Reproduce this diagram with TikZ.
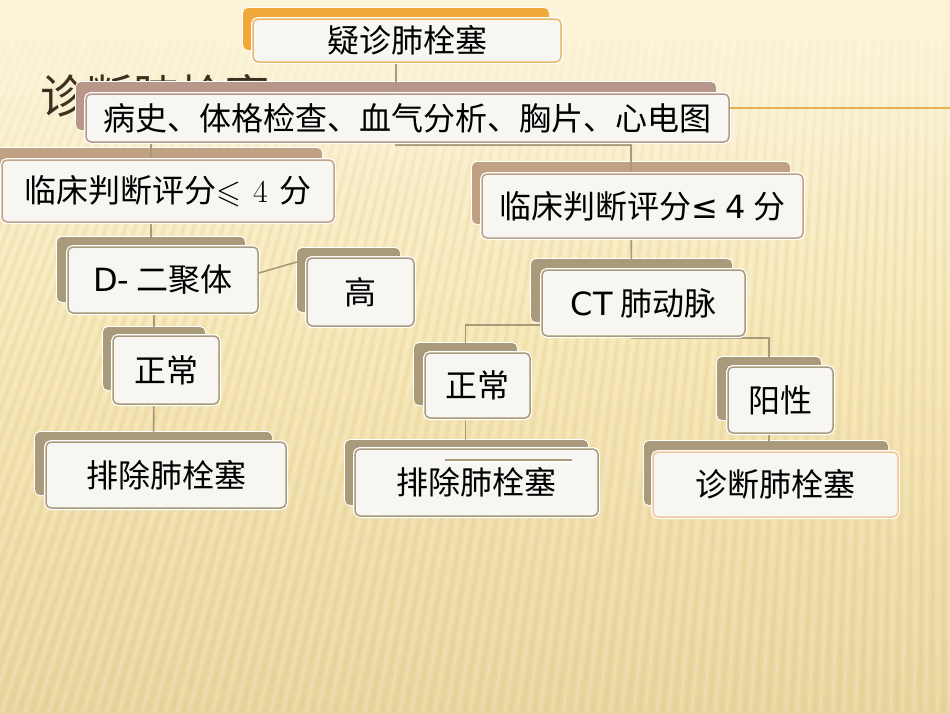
\documentclass[tikz,border=0pt]{standalone}
\usepackage{fontspec}
\usepackage{amssymb}
\newfontfamily\cjk{Noto Sans CJK SC}
\newfontfamily\lat{DejaVu Sans}
\usetikzlibrary{fadings}
\definecolor{bgtop}{HTML}{FCF4D8}
\definecolor{bgmid}{HTML}{F6E6B4}
\definecolor{bgbot}{HTML}{E9D59E}
\definecolor{stripec}{HTML}{C8AA60}
\definecolor{orangeb}{HTML}{F0A838}
\definecolor{orangeline}{HTML}{E9B76A}
\definecolor{mauve}{HTML}{B8978A}
\definecolor{tan}{HTML}{C1A184}
\definecolor{olive}{HTML}{A89A7A}
\definecolor{peach}{HTML}{F2C49A}
\definecolor{boxfill}{HTML}{F8F6F2}
\definecolor{titlec}{HTML}{3E3020}
\definecolor{conn}{HTML}{A89A7A}
\definecolor{decol}{HTML}{E8B050}
\tikzfading[name=topfade, top color=transparent!0, bottom color=transparent!100]
\tikzset{
  backbox/.style={fill=#1, draw=none, rounded corners=5pt, inner sep=0pt,
    preaction={draw=white, line width=2pt, rounded corners=5pt}},
  frontbox/.style={fill=boxfill, draw=#1, line width=1.5pt, rounded corners=5pt, inner sep=0pt,
    preaction={draw=white, line width=4pt, rounded corners=5pt},
    font=\cjk\fontsize{32}{34}\selectfont, text=black},
  connector/.style={draw=conn, line width=1.6pt},
  stripe/.style={draw=stripec, line width=3pt, opacity=0.11},
  lstripe/.style={draw=white, line width=2.5pt, opacity=0.16}
}
% #1 name, #2 style, #3 colour, #4 x1, #5 y1, #6 x2, #7 y2, #8 text
\newcommand\mkbox[8]{%
  \node[#2=#3, minimum width={#6-#4}, minimum height={#7-#5}] (#1) at ({(#4+#6)/2},{(#5+#7)/2}) {#8};}
\begin{document}
\begin{tikzpicture}[x=1pt,y=-1pt]
\useasboundingbox (0,0) rectangle (950,713);
% background
\shade[top color=bgtop, bottom color=bgbot, middle color=bgmid] (0,0) rectangle (950,713);
\begin{scope}
\clip (0,0) rectangle (950,713);
\foreach \i in {-40,...,130} {
  \pgfmathsetmacro{\xt}{\i*9}
  \pgfmathsetmacro{\xb}{950+(\xt-950)*1.3}
  \pgfmathsetmacro{\xtt}{\xt+4.5}
  \pgfmathsetmacro{\xbb}{950+(\xtt-950)*1.3}
  \draw[stripe] (\xt,40) -- (\xb,713);
  \draw[lstripe] (\xtt,40) -- (\xbb,713);
}
\end{scope}
\fill[bgtop, path fading=topfade] (0,0) rectangle (950,200);
\fill[bgtop] (0,0) rectangle (950,40);
% title behind boxes
\node[anchor=base west, font=\cjk\fontsize{46}{46}\selectfont, text=titlec, inner sep=0pt] (title) at (40,113) {诊断肺栓塞};

% back boxes
\mkbox{b1s}{backbox}{orangeb}{243}{8}{549}{50}{}
\mkbox{b2s}{backbox}{mauve}{76}{82}{716}{130}{}
\mkbox{b3ls}{backbox}{tan}{-5}{148}{322}{210}{}
\mkbox{b3rs}{backbox}{tan}{472}{162}{790}{224}{}
\mkbox{dxs}{backbox}{olive}{57}{237}{245}{302}{}
\mkbox{gs}{backbox}{olive}{297}{248}{400}{312}{}
\mkbox{z1s}{backbox}{olive}{103}{327}{205}{390}{}
\mkbox{p1s}{backbox}{olive}{35}{432}{272}{495}{}
\mkbox{cts}{backbox}{olive}{531}{259}{732}{322}{}
\mkbox{z2s}{backbox}{olive}{414}{343}{517}{405}{}
\mkbox{ys}{backbox}{olive}{717}{357}{821}{420}{}
\mkbox{p2s}{backbox}{olive}{345}{440}{588}{505}{}
\mkbox{dgs}{backbox}{olive}{644}{441}{888}{505}{}

% junction coordinates
\coordinate (j1) at (500,145);
\coordinate (j2) at (500,325);
\coordinate (j3) at (700,338);

% connectors (behind front boxes)
\draw[connector] (b1s.center) -- (b2s.center);
\draw[connector] (dxs.center |- b2s.center) -- (dxs.center);
\draw[connector] (b2s.center) |- (j1) -| (b3rs.center);
\draw[connector] (dxs.center) -- (z1s.center |- dxs.center) -- (z1s.center) -- (p1s.center);
\draw[connector] (b3rs.center) -- (cts.center);
\draw[connector] (cts.center) |- (j2) -| (z2s.center);
\draw[connector] (z2s.center) -- (z2s.center |- p2s.center);
\draw[connector] (cts.center) |- (j3) -| (ys.center);
\draw[connector] (ys.center) -- (ys.center |- dgs.center);

% front boxes
\mkbox{b1}{frontbox}{orangeline}{253}{19}{561}{62}{疑诊肺栓塞}
\mkbox{b2}{frontbox}{mauve}{86}{94}{729}{142}{病史、体格检查、血气分析、胸片、心电图}
\mkbox{b3l}{frontbox}{tan}{2}{160}{334}{222}{临床判断评分$\leqslant$\hspace{12pt}{\rmfamily 4}\hspace{12pt}分}
\mkbox{b3r}{frontbox}{tan}{482}{174}{803}{238}{临床判断评分{\lat ≤} {\lat 4} 分}
\mkbox{dx}{frontbox}{olive}{68}{247}{258}{313}{{\lat D-} 二聚体}
\mkbox{g}{frontbox}{olive}{307}{258}{414}{326}{高}
\mkbox{z1}{frontbox}{olive}{113}{336}{219}{404}{正常}
\mkbox{p1}{frontbox}{olive}{46}{442}{286}{508}{排除肺栓塞}
\mkbox{ct}{frontbox}{olive}{542}{270}{745}{336}{{\lat CT} 肺动脉}
\mkbox{z2}{frontbox}{olive}{425}{353}{530}{418}{正常}
\mkbox{y}{frontbox}{olive}{728}{367}{833}{433}{阳性}
\mkbox{p2}{frontbox}{olive}{355}{449}{598}{516}{排除肺栓塞}
\mkbox{dg}{frontbox}{peach}{653}{452}{898}{517}{诊断肺栓塞}

% D-dimer to high
\draw[connector] ([yshift=7pt]dx.east) -- ([yshift=18pt]gs.west);
% decorative line to right edge
\coordinate (rend) at (950,108);
\draw[draw=decol, line width=1.5pt] (b2.east |- rend) -- (rend);
% grey line inside right exclusion box
\coordinate (gl1) at (445,460);
\coordinate (gl2) at (572,460);
\draw[draw=white, line width=2pt, opacity=0.8] ([yshift=-2pt]gl1) -- ([yshift=-2pt]gl2);
\draw[draw=olive, line width=2.5pt] (gl1) -- (gl2);
\end{tikzpicture}
\end{document}
